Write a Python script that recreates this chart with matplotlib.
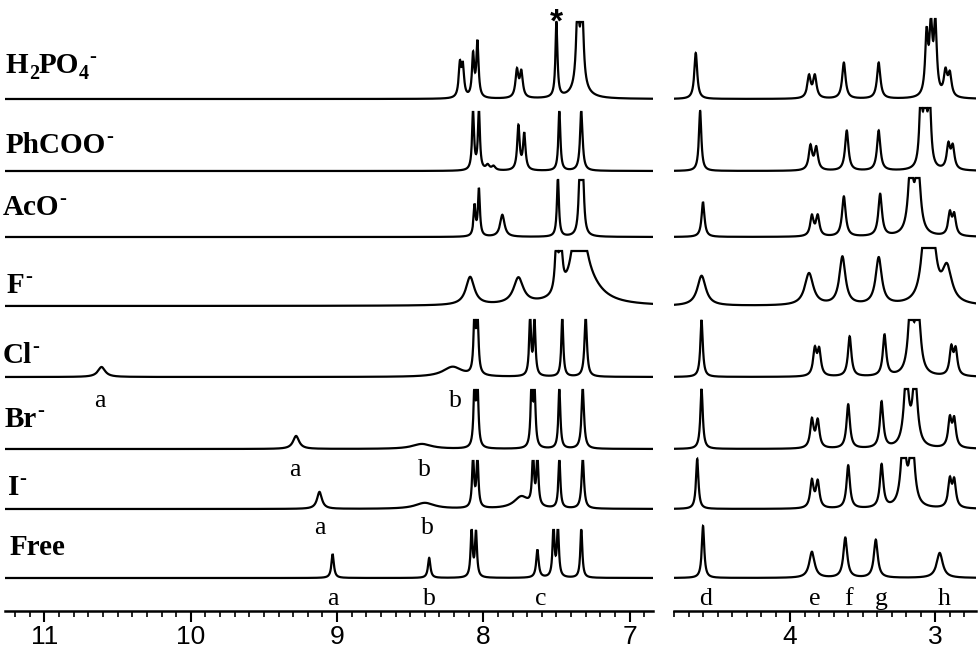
import numpy as np
import matplotlib
matplotlib.use("Agg")
import matplotlib.pyplot as plt
from matplotlib.ticker import MultipleLocator

# ---------------- data (ppm, height, half-width) ----------------
samples = ['H2PO4-', 'PhCOO-', 'AcO-', 'F-', 'Cl-', 'Br-', 'I-', 'Free']
# label pieces: (text, kind)  kind: 'n' normal, 'sub' subscript, 'sup' superscript
sample_labels = [[('H', 'n'), ('2', 'sub'), ('PO', 'n'), ('4', 'sub'), ('-', 'sup')],
                 [('PhCOO', 'n'), ('-', 'sup')],
                 [('AcO', 'n'), ('-', 'sup')],
                 [('F', 'n'), ('-', 'sup')],
                 [('Cl', 'n'), ('-', 'sup')],
                 [('Br', 'n'), ('-', 'sup')],
                 [('I', 'n'), ('-', 'sup')],
                 [('Free', 'n')]]

peaks_H2PO4 = [(8.16, 32, 0.010), (8.14, 30, 0.010), (8.07, 42, 0.009), (8.04, 55, 0.009),
               (7.77, 27, 0.012), (7.74, 25, 0.012), (7.50, 77, 0.008), (7.355, 80, 0.012),
               (7.325, 80, 0.012), (7.34, 10, 0.06),
               (4.65, 46, 0.012), (3.87, 22, 0.014), (3.83, 22, 0.014), (3.63, 36, 0.014),
               (3.39, 36, 0.014), (3.06, 60, 0.012), (3.03, 66, 0.012), (3.00, 70, 0.012),
               (2.93, 24, 0.014), (2.90, 22, 0.014)]
peaks_PhCOO = [(8.07, 60, 0.008), (8.03, 60, 0.008), (7.97, 5, 0.015), (7.93, 4, 0.015),
               (7.76, 44, 0.010), (7.72, 36, 0.010), (7.48, 62, 0.008), (7.33, 62, 0.010),
               (4.62, 60, 0.010), (3.86, 24, 0.014), (3.82, 22, 0.014), (3.61, 40, 0.014),
               (3.39, 40, 0.014), (3.10, 70, 0.012), (3.07, 70, 0.012), (3.04, 70, 0.012),
               (2.91, 24, 0.014), (2.88, 22, 0.014)]
peaks_AcO = [(8.06, 30, 0.008), (8.03, 47, 0.008), (7.87, 22, 0.018), (7.49, 60, 0.008),
             (7.34, 60, 0.010), (7.32, 60, 0.010),
             (4.60, 35, 0.012), (3.85, 20, 0.014), (3.81, 20, 0.014), (3.63, 40, 0.015),
             (3.38, 42, 0.015), (3.17, 70, 0.02), (3.12, 70, 0.02), (2.90, 22, 0.014),
             (2.87, 20, 0.014)]
peaks_F = [(8.09, 28, 0.035), (7.76, 26, 0.04), (7.50, 50, 0.012), (7.47, 50, 0.012),
           (7.36, 55, 0.04), (7.33, 40, 0.04), (7.30, 22, 0.12),
           (4.61, 30, 0.035), (3.87, 32, 0.035), (3.64, 48, 0.025), (3.39, 47, 0.025),
           (3.07, 70, 0.03), (3.02, 60, 0.03), (2.92, 35, 0.04)]
peaks_Cl = [(10.61, 10, 0.03), (8.21, 10, 0.08), (8.06, 60, 0.008), (8.04, 60, 0.008),
            (7.68, 58, 0.008), (7.65, 55, 0.008), (7.46, 60, 0.008), (7.30, 60, 0.010),
            (4.61, 57, 0.010), (3.83, 26, 0.014), (3.80, 25, 0.014), (3.59, 40, 0.014),
            (3.35, 41, 0.014), (3.17, 70, 0.02), (3.12, 70, 0.02), (2.89, 27, 0.014),
            (2.86, 25, 0.014)]
peaks_Br = [(9.28, 13, 0.025), (8.42, 5, 0.08), (8.06, 62, 0.008), (8.04, 62, 0.008),
            (7.67, 62, 0.008), (7.65, 60, 0.008), (7.48, 62, 0.008), (7.32, 62, 0.010),
            (4.61, 60, 0.010), (3.85, 28, 0.014), (3.81, 27, 0.014), (3.60, 44, 0.014),
            (3.37, 46, 0.014), (3.20, 70, 0.02), (3.14, 70, 0.02), (2.90, 28, 0.014),
            (2.87, 27, 0.014)]
peaks_I = [(9.12, 17, 0.02), (8.40, 6, 0.08), (8.07, 50, 0.008), (8.04, 50, 0.008),
           (7.74, 12, 0.06), (7.66, 50, 0.008), (7.63, 50, 0.008), (7.48, 50, 0.008),
           (7.32, 50, 0.010),
           (4.64, 50, 0.010), (3.85, 27, 0.014), (3.81, 26, 0.014), (3.60, 43, 0.014),
           (3.37, 43, 0.014), (3.22, 70, 0.02), (3.16, 70, 0.02), (2.90, 27, 0.014),
           (2.87, 26, 0.014)]
peaks_Free = [(9.03, 24, 0.010), (8.37, 20, 0.010), (8.08, 48, 0.008), (8.05, 45, 0.008),
              (7.63, 28, 0.010), (7.52, 50, 0.008), (7.49, 50, 0.008), (7.33, 50, 0.008),
              (4.60, 52, 0.010), (3.85, 26, 0.022), (3.62, 40, 0.016), (3.41, 38, 0.016),
              (2.97, 25, 0.025)]
all_peaks = [peaks_H2PO4, peaks_PhCOO, peaks_AcO, peaks_F, peaks_Cl, peaks_Br, peaks_I, peaks_Free]

# flat-top (truncation) level per trace, left and right panels
clip_left = [77, 59, 57, 55, 57, 59, 48, 48]
clip_right = [80, 63, 59, 58, 57, 60, 51, 80]

# peak assignment letters
free_letters = ['a', 'b', 'c', 'd', 'e', 'f', 'g', 'h']
free_letter_ppm = [9.03, 8.37, 7.61, 4.58, 3.83, 3.60, 3.37, 2.94]
anion_letters = {'Cl-': [('a', 10.62), ('b', 8.19)],
                 'Br-': [('a', 9.29), ('b', 8.40)],
                 'I-': [('a', 9.12), ('b', 8.38)]}
star_ppm = 7.50

# ---------------- layout ----------------
W, H = 980, 650
fig = plt.figure(figsize=(9.8, 6.5), dpi=100)
axis_px = 611
axL = fig.add_axes([5 / W, (H - axis_px) / H, 648 / W, axis_px / H])
axR = fig.add_axes([674 / W, (H - axis_px) / H, 302 / W, axis_px / H])

offsets = [512, 440, 374, 305, 234, 162, 102, 33]
letter_base = {'Cl-': 204, 'Br-': 135, 'I-': 77, 'Free': 6}


def spectrum(x, peaks):
    y = np.zeros_like(x)
    for p, h, w in peaks:
        y += h * w ** 2 / ((x - p) ** 2 + w ** 2)
    return y


xl = np.linspace(6.84, 11.27, 6000)
xr = np.linspace(2.72, 4.80, 3000)
for i, pk in enumerate(all_peaks):
    yl = np.minimum(spectrum(xl, pk), clip_left[i])
    yr = np.minimum(spectrum(xr, pk), clip_right[i])
    axL.plot(xl, yl + offsets[i], color='black', lw=1.6, solid_joinstyle='miter')
    axR.plot(xr, yr + offsets[i], color='black', lw=1.6, solid_joinstyle='miter')

for ax, lo, hi in [(axL, 6.84, 11.27), (axR, 2.72, 4.80)]:
    ax.set_xlim(hi, lo)
    ax.set_ylim(0, axis_px)
    for s in ['top', 'left', 'right']:
        ax.spines[s].set_visible(False)
    ax.spines['bottom'].set_linewidth(1.8)
    ax.set_yticks([])
    ax.xaxis.set_major_locator(MultipleLocator(1))
    ax.xaxis.set_minor_locator(MultipleLocator(0.1))
    ax.tick_params(axis='x', which='major', direction='out', length=8, width=1.5, pad=2,
                   labelsize=19)
    ax.tick_params(axis='x', which='minor', direction='out', length=4, width=1.2)
    for lab in ax.get_xticklabels():
        lab.set_fontfamily('Liberation Sans')
    ax.patch.set_alpha(0)

# sample labels, built from pieces
renderer = fig.canvas.get_renderer()
label_pos = [(6, 73), (6, 153), (3, 215), (7, 293), (3, 363), (5, 427), (8, 495), (10, 555)]
for pieces, (px, py) in zip(sample_labels, label_pos):
    x = px
    for txt, kind in pieces:
        if kind == 'n':
            size, dy, xs = 21, 0, x
        elif kind == 'sub':
            size, dy, xs = 14.5, -6, x
        else:
            size, dy, xs = 15, 11, x
        t = fig.text(xs / W, (H - py + dy) / H, txt, fontsize=size, fontweight='bold',
                     family='Liberation Serif', ha='left', va='baseline')
        bb = t.get_window_extent(renderer)
        x = bb.x1

# letters
serif = dict(family='Liberation Serif', fontsize=18.5, ha='center', va='baseline')
for let, p in zip(free_letters, free_letter_ppm):
    ax = axL if p > 6 else axR
    ax.text(p, letter_base['Free'], let, **serif)
for name, items in anion_letters.items():
    for let, p in items:
        axL.text(p, letter_base[name], let, **serif)

axL.text(star_ppm, 588, '*', ha='center', va='center', fontsize=24, fontweight='bold',
         family='Liberation Sans')

fig.savefig('out.png', dpi=100)
